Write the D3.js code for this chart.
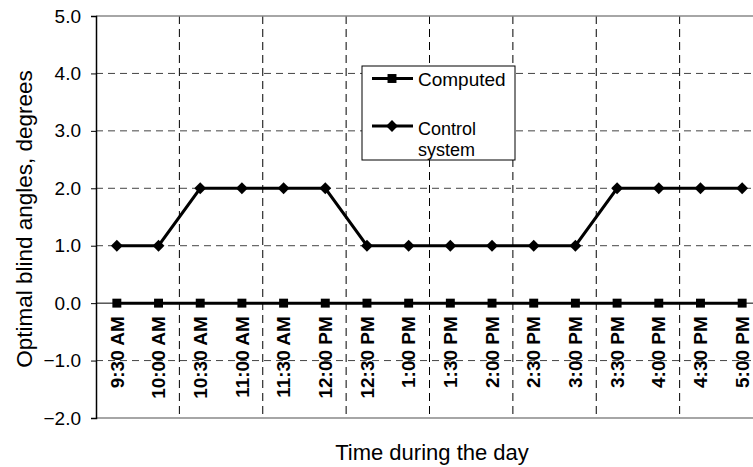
<html>
<head>
<meta charset="utf-8">
<script src="https://d3js.org/d3.v7.min.js"></script>
<style>
  body { margin: 0; background: #fff; }
  text { font-family: "Liberation Sans", Arial, sans-serif; }
</style>
</head>
<body>
<div id="chart"></div>
<script>
  // data
  let times = ["9:30 AM", "10:00 AM", "10:30 AM", "11:00 AM", "11:30 AM", "12:00 PM",
               "12:30 PM", "1:00 PM", "1:30 PM", "2:00 PM", "2:30 PM", "3:00 PM",
               "3:30 PM", "4:00 PM", "4:30 PM", "5:00 PM"];
  let computed = [0, 0, 0, 0, 0, 0, 0, 0, 0, 0, 0, 0, 0, 0, 0, 0];
  let controlSystem = [1, 1, 2, 2, 2, 2, 1, 1, 1, 1, 1, 1, 2, 2, 2, 2];
  let yTicks = [-2, -1, 0, 1, 2, 3, 4, 5];

  let width = 753, height = 467;
  let plotLeft = 96, plotRight = 763, plotTop = 16, plotBottom = 418;

  let svg = d3.select("#chart").append("svg")
    .attr("width", width)
    .attr("height", height);

  let x = d3.scaleBand().domain(times).range([plotLeft, plotRight]).padding(0);
  let cx = d => x(d) + x.bandwidth() / 2;
  let y = d3.scaleLinear().domain([-2, 5]).range([plotBottom, plotTop]);

  // horizontal grid
  svg.append("g").selectAll("line")
    .data(yTicks.filter(d => d !== 0 && d !== 5 && d !== -2))
    .enter().append("line")
      .attr("x1", plotLeft).attr("x2", plotRight)
      .attr("y1", d => y(d)).attr("y2", d => y(d))
      .style("stroke", "#444")
      .style("stroke-width", 1)
      .style("stroke-dasharray", "7,5");

  // vertical grid every 2 categories
  let vGrid = times.filter((d, i) => i % 2 === 0 && i > 0);
  svg.append("g").selectAll("line")
    .data(vGrid)
    .enter().append("line")
      .attr("x1", d => x(d)).attr("x2", d => x(d))
      .attr("y1", plotTop).attr("y2", plotBottom)
      .style("stroke", "#000")
      .style("stroke-width", 1)
      .style("stroke-dasharray", "8,5");

  // top and bottom frame
  svg.append("line").attr("x1", plotLeft).attr("x2", plotRight).attr("y1", plotTop).attr("y2", plotTop)
    .style("stroke", "#888").style("stroke-width", 1.5);
  svg.append("line").attr("x1", plotLeft).attr("x2", plotRight).attr("y1", plotBottom).attr("y2", plotBottom)
    .style("stroke", "#888").style("stroke-width", 1.5);

  // y axis
  let yAxis = d3.axisLeft(y).tickValues(yTicks).tickSize(5).tickPadding(10)
    .tickFormat(d3.format(".1f"));
  let gy = svg.append("g").attr("transform", `translate(${plotLeft},0)`).call(yAxis);
  gy.select(".domain").attr("stroke", "#000").attr("stroke-width", 1.5);
  gy.selectAll(".tick line").attr("stroke", "#000");
  gy.selectAll(".tick text")
    .style("font-size", "19px")
    .style("fill", "#000")
    .style("font-family", "Liberation Sans, Arial, sans-serif");

  // zero line
  svg.append("line").attr("x1", plotLeft).attr("x2", plotRight).attr("y1", y(0)).attr("y2", y(0))
    .style("stroke", "#000").style("stroke-width", 1);

  // x labels
  svg.append("g").selectAll("text")
    .data(times)
    .enter().append("text")
      .attr("transform", d => `translate(${cx(d)},${y(0) + 13}) rotate(-90)`)
      .attr("dy", "0.35em")
      .attr("text-anchor", "end")
      .style("font-size", "19px")
      .style("font-weight", "bold")
      .text(d => d);

  // series
  let line = d3.line().x((d, i) => cx(times[i])).y(d => y(d));
  svg.append("path").datum(computed).attr("d", line)
    .style("fill", "none").style("stroke", "#000").style("stroke-width", 3);
  svg.append("path").datum(controlSystem).attr("d", line)
    .style("fill", "none").style("stroke", "#000").style("stroke-width", 3);

  let square = d3.symbol().type(d3.symbolSquare).size(80);
  let diamond = d3.symbol().type(d3.symbolSquare).size(70);

  svg.append("g").selectAll("path")
    .data(computed)
    .enter().append("path")
      .attr("d", square)
      .attr("transform", (d, i) => `translate(${cx(times[i])},${y(d)})`)
      .style("fill", "#000");
  svg.append("g").selectAll("path")
    .data(controlSystem)
    .enter().append("path")
      .attr("d", diamond)
      .attr("transform", (d, i) => `translate(${cx(times[i])},${y(d)}) rotate(45)`)
      .style("fill", "#000");

  // legend
  let lg = svg.append("g");
  lg.append("rect").attr("x", 362).attr("y", 66).attr("width", 153).attr("height", 94)
    .style("fill", "#fff").style("stroke", "#000").style("stroke-width", 1);
  lg.append("line").attr("x1", 372).attr("x2", 413).attr("y1", 78.5).attr("y2", 78.5)
    .style("stroke", "#000").style("stroke-width", 3);
  lg.append("path").attr("d", square).attr("transform", "translate(392,78.5)");
  lg.append("text").attr("x", 418).attr("y", 86).style("font-size", "19px").text("Computed");
  lg.append("line").attr("x1", 372).attr("x2", 413).attr("y1", 126).attr("y2", 126)
    .style("stroke", "#000").style("stroke-width", 3);
  lg.append("path").attr("d", diamond).attr("transform", "translate(392,126) rotate(45)");
  lg.append("text").attr("x", 418).attr("y", 135).style("font-size", "18px").text("Control");
  lg.append("text").attr("x", 418).attr("y", 156).style("font-size", "18px").text("system");

  // axis titles
  svg.append("text")
    .attr("transform", `translate(32,${(plotTop + plotBottom) / 2 + 2}) rotate(-90)`)
    .attr("text-anchor", "middle")
    .style("font-size", "22.5px")
    .text("Optimal blind angles, degrees");
  svg.append("text")
    .attr("x", 432).attr("y", 460)
    .attr("text-anchor", "middle")
    .style("font-size", "22px")
    .text("Time during the day");
</script>
</body>
</html>
